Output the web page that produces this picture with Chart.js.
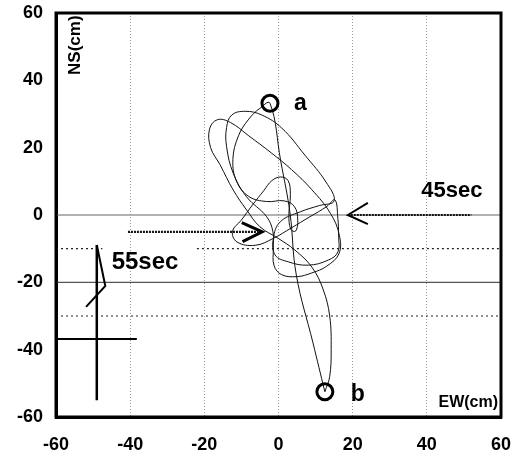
<!DOCTYPE html>
<html>
<head>
<meta charset="utf-8">
<script src="https://cdn.jsdelivr.net/npm/chart.js@4"></script>
<style>
  html, body { margin: 0; padding: 0; background: #fff; }
</style>
</head>
<body>
<canvas id="orbitChart" width="518" height="453"></canvas>
<script>
// particle orbit, EW / NS in cm
const orbitX = [12.5, 9.3, 4.8, 3.1, 0.6, -2.3, -5, -8, -10.8, -12.3, -11.3, -8, -3.2, 1.5, 4.3, 5.2, 4.6, 3.3, 2.8, 3.2,
  2.6, 0.6, -1.8, -4, -7, -10, -12.4, -11.2, -6.3, -1.5, 3.5, 8.5, 13, 15.2, 16, 16.2, 16, 13.4, 8, 2.6,
  -0.9, -1.4, 0.5, 6, 11, 15, 12.8, 7.1, 0.9, -4.5, -9, -12.6, -14, -14, -12.2, -8.6, -3.2, -1.5, -1.4, -1.2,
  0.8, 5, 9, 13, 16.3, 16.4, 14, 9, 3.5, -2, -8, -13, -16.5, -18.6, -18.3, -15.8, -12.2, -8.6, -5, 0,
  4.4, 9, 12, 13.8, 14.2, 13.8, 12.5];
const orbitY = [-52.5, -38, -17.8, 0.6, 16, 33.2, 31.7, 28.5, 23.5, 16.5, 10, 5.5, 4, 4.2, 2.5, -1.5, -4.8, -4.2, 0, 6,
  10.2, 11.3, 10.2, 7.2, 3, -1.5, -4.8, -8, -9, -7, -3.8, -0.5, 2.5, 4.5, -1, -6, -11, -13.4, -14.9, -13.9,
  -11.9, -7, -2, 1, 2.8, 4.2, 9.8, 17.8, 25.8, 29.7, 30.8, 29.7, 26, 20.3, 12.4, 5.4, -0.5, -5, -10, -15,
  -17.7, -18.3, -17.2, -15.2, -11.5, -6, 0.5, 7.5, 13.5, 18.5, 23.5, 27.5, 28.3, 25.5, 20, 15, 7.4, 1.5, -3.5, -7,
  -10.4, -15.5, -22, -30, -40, -48, -52.5];

// start / end marks a and b
const markX = [-2.3, 12.5];
const markY = [33.2, -52.5];

// reference lines
const solidLineY = [0, -20];
const fullLineX = [-60, 60];
const dottedLineY = -30;
const tenLineX1 = [-60, -47.5];
const tenLineX2 = [-22, 60];
const tenLineY = -10;

// 45 sec arrow
const shaft45X = [19.5, 52];
const shaft45Y = [0, 0];
const head45X = [24.1, 18.7, 24.1];
const head45Y = [3.6, 0, -2.7];

// 55 sec arrow
const shaft55X = [-40.6, -5.5];
const shaft55Y = [-5, -5];
const head55X = [-9.9, -4.4, -9.7];
const head55Y = [-2.3, -5, -7.9];

// stroke mark at the left
const stemX = [-49, -49];
const stemY = [-8.9, -55];
const kinkX = [-49, -46.7, -51.9];
const kinkY = [-8.9, -21.1, -27.3];
const barX = [-59.8, -38.2];
const barY = [-36.8, -36.8];

const axisTicks = [-60, -40, -20, 0, 20, 40, 60];

function pts(xs, ys) {
    return xs.map((x, i) => ({ x: x, y: ys[i] }));
}

function seg(xs, ys, color, width, dash, tension) {
    return {
        data: pts(xs, ys),
        showLine: true,
        pointRadius: 0,
        borderColor: color,
        borderWidth: width,
        borderDash: dash || [],
        tension: tension || 0,
        fill: false
    };
}

const datasets = [
    {
        data: pts(markX, markY),
        showLine: false,
        pointStyle: "circle",
        pointRadius: 8,
        borderWidth: 3,
        borderColor: "#000",
        backgroundColor: "rgba(0,0,0,0)"
    },
    seg(orbitX, orbitY, "#111", 1, null, 0.4),
    seg(shaft45X, shaft45Y, "#111", 2.2, [2, 1]),
    seg(head45X, head45Y, "#000", 2),
    seg(shaft55X, shaft55Y, "#111", 2.2, [2, 1]),
    seg(head55X, head55Y, "#000", 3),
    seg(stemX, stemY, "#000", 2.5),
    seg(kinkX, kinkY, "#000", 2),
    seg(barX, barY, "#000", 2),
    seg(fullLineX, [dottedLineY, dottedLineY], "#222", 1.2, [2, 3]),
    seg(tenLineX1, [tenLineY, tenLineY], "#222", 1.2, [2, 3]),
    seg(tenLineX2, [tenLineY, tenLineY], "#222", 1.2, [2, 3]),
    seg(fullLineX, [solidLineY[1], solidLineY[1]], "#555", 1.2),
    seg(fullLineX, [solidLineY[0], solidLineY[0]], "#999", 1.5)
];

// text notes, positioned in data units
const notes = [
    { text: "a", x: 4.2, y: 31.1, font: "bold 23px 'Liberation Sans', Arial, sans-serif", align: "left" },
    { text: "b", x: 19.5, y: -55.2, font: "bold 23px 'Liberation Sans', Arial, sans-serif", align: "left" },
    { text: "45sec", x: 38.5, y: 5.4, font: "bold 22px 'Liberation Sans', Arial, sans-serif", align: "left" },
    { text: "55sec", x: -45, y: -16.1, font: "bold 24px 'Liberation Sans', Arial, sans-serif", align: "left" },
    { text: "EW(cm)", x: 59.2, y: -56.9, font: "bold 16px 'Liberation Sans', Arial, sans-serif", align: "right" }
];

const notesPlugin = {
    id: "notes",
    afterDatasetsDraw(chart) {
        const { ctx, chartArea, scales } = chart;
        ctx.save();
        // heavy frame round the plot
        ctx.lineWidth = 3;
        ctx.strokeStyle = "#000";
        ctx.strokeRect(chartArea.left, chartArea.top, chartArea.right - chartArea.left, chartArea.bottom - chartArea.top);

        ctx.fillStyle = "#000";
        ctx.textBaseline = "alphabetic";
        notes.forEach(n => {
            ctx.font = n.font;
            ctx.textAlign = n.align;
            ctx.fillText(n.text, scales.x.getPixelForValue(n.x), scales.y.getPixelForValue(n.y));
        });

        // NS(cm) runs up the left side
        ctx.translate(scales.x.getPixelForValue(-53.5), scales.y.getPixelForValue(41.6));
        ctx.rotate(-Math.PI / 2);
        ctx.font = "bold 17px 'Liberation Sans', Arial, sans-serif";
        ctx.textAlign = "left";
        ctx.fillText("NS(cm)", 0, 0);
        ctx.restore();
    }
};

new Chart(document.getElementById("orbitChart"), {
    type: "scatter",
    data: { datasets: datasets },
    options: {
        responsive: false,
        animation: false,
        layout: { padding: { top: 13, right: 17, left: 0, bottom: 0 } },
        plugins: {
            legend: { display: false },
            tooltip: { enabled: false }
        },
        scales: {
            x: {
                min: -60,
                max: 60,
                afterFit: s => { s.height = 36; s.paddingLeft = 0; s.paddingRight = 0; },
                afterBuildTicks: s => { s.ticks = axisTicks.map(v => ({ value: v })); },
                ticks: {
                    color: "#000",
                    padding: 17,
                    font: { family: "'Liberation Sans', Arial, sans-serif", size: 18, weight: "bold" }
                },
                grid: {
                    drawTicks: false,
                    lineWidth: 1,
                    color: c => (c.tick && Math.abs(c.tick.value) === 60) ? "rgba(0,0,0,0)" : "#999"
                },
                border: { display: true, color: "#000", width: 3, dash: [1, 2] }
            },
            y: {
                min: -60,
                max: 60,
                afterFit: s => { s.width = 56; s.paddingTop = 0; s.paddingBottom = 0; },
                afterBuildTicks: s => { s.ticks = axisTicks.map(v => ({ value: v })); },
                ticks: {
                    color: "#000",
                    padding: 13,
                    font: { family: "'Liberation Sans', Arial, sans-serif", size: 18, weight: "bold" }
                },
                grid: { display: false, drawTicks: false },
                border: { display: true, color: "#000", width: 3 }
            }
        }
    },
    plugins: [notesPlugin]
});
</script>
</body>
</html>
